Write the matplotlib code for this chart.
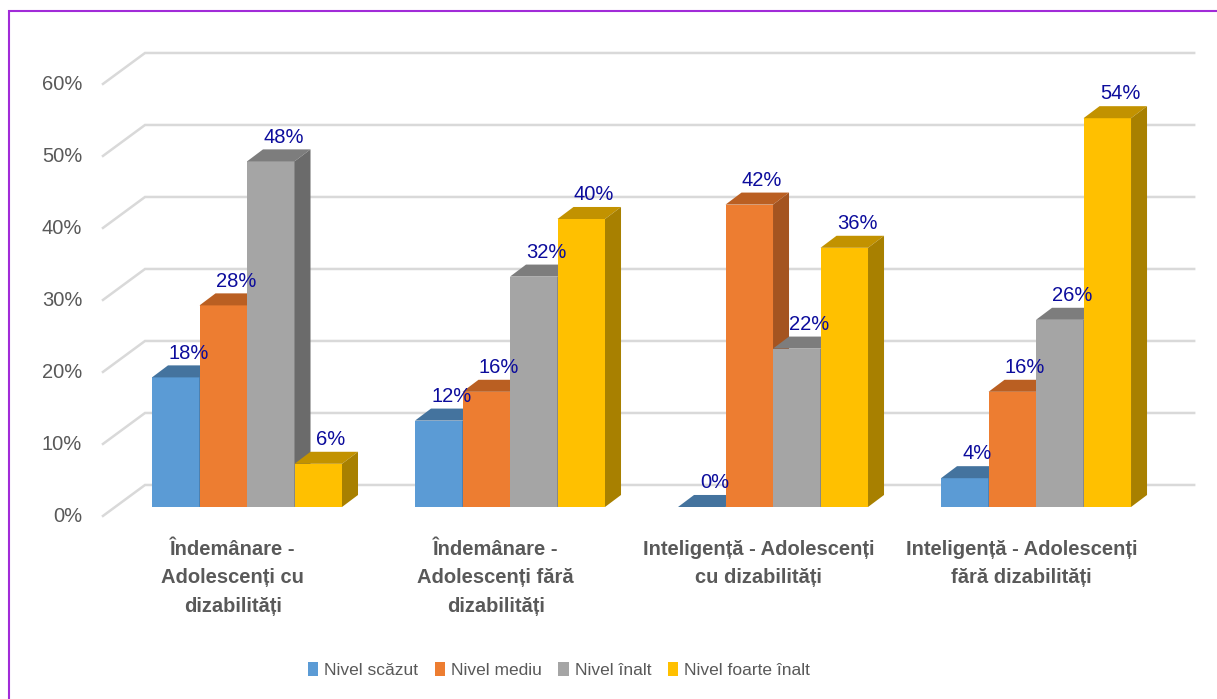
import numpy as np
import matplotlib
matplotlib.use('Agg')
import matplotlib.pyplot as plt
from matplotlib.patches import Polygon, Rectangle, Patch

plt.rcParams['font.family'] = ['Liberation Sans', 'DejaVu Sans']

# data
categories = ['Îndemânare -\nAdolescenți cu\ndizabilități',
              'Îndemânare -\nAdolescenți fără\ndizabilități',
              'Inteligență - Adolescenți\ncu dizabilități',
              'Inteligență - Adolescenți\nfără dizabilități']
series = ['Nivel scăzut', 'Nivel mediu', 'Nivel înalt', 'Nivel foarte înalt']
nivel_scazut = [18, 12, 0, 4]
nivel_mediu = [28, 16, 42, 16]
nivel_inalt = [48, 32, 22, 26]
nivel_foarte_inalt = [6, 40, 36, 54]
yticks = [0, 10, 20, 30, 40, 50, 60]

values = [nivel_scazut, nivel_mediu, nivel_inalt, nivel_foarte_inalt]

# colours: front, top, side
front = ['#5B9BD5', '#ED7D31', '#A5A5A5', '#FFC000']
top = ['#44739E', '#BA5F22', '#7D7D7D', '#C29200']
side = ['#3D6890', '#A45420', '#6B6B6B', '#A88000']

# geometry (data units: 1 = bar width, y in %)
gstep = 5.537
dx, dy = 0.337, 1.67          # bar depth
wall_dy = 3.06                # back wall above bar front
floor_dx, floor_dy = 0.885, 4.3

fig = plt.figure(figsize=(12.17, 6.99), dpi=100)
ax = fig.add_axes([0, 0, 1, 1])
ax.set_xlim(-152 / 47.5, (1217 - 152) / 47.5)
ax.set_ylim(-192 / 7.2, 507 / 7.2)
ax.axis('off')

# gridlines (back wall + floor diagonal)
wall_x0, wall_x1 = -0.147, 21.94
for t in yticks:
    yb = t + wall_dy
    ax.plot([wall_x0 - floor_dx, wall_x0, wall_x1],
            [yb - floor_dy, yb, yb], color='#D9D9D9', lw=1.8,
            solid_joinstyle='miter', zorder=1)
    ax.text(-1.47, t - 1.25, f'{t}%', ha='right', va='center',
            fontsize=14.5, color='#595959')

# bars
z = 2
for g in range(len(categories)):
    for s in range(len(series)):
        v = values[s][g]
        x0 = g * gstep + s
        x1 = x0 + 1
        ax.add_patch(Polygon([(x0, 0), (x1, 0), (x1, v), (x0, v)],
                             closed=True, fc=front[s], ec='none', zorder=z))
        ax.add_patch(Polygon([(x0, v), (x1, v), (x1 + dx, v + dy), (x0 + dx, v + dy)],
                             closed=True, fc=top[s], ec='none', zorder=z))
        ax.add_patch(Polygon([(x1, 0), (x1 + dx, dy), (x1 + dx, v + dy), (x1, v)],
                             closed=True, fc=side[s], ec='none', zorder=z))
        z += 1
        ax.text(x0 + 0.5 + dx / 2 + 0.1, v + dy + 1.7, f'{v}%', ha='center',
                va='center', fontsize=14.5, color='#0C0C9C', zorder=50)
    ax.text(g * gstep + 2 - 0.3, -4.6, categories[g], ha='center', va='top',
            fontsize=14.5, fontweight='bold', color='#595959', linespacing=1.62)

# legend
handles = [Patch(fc=c, ec='none') for c in front]
fig.legend(handles, series, loc='center', bbox_to_anchor=(559 / 1217, 1 - 670 / 699),
           ncol=4, frameon=False, fontsize=12.5,
           handlelength=0.6, handleheight=0.85, handletextpad=0.35,
           columnspacing=0.95, labelcolor='#595959')

# purple frame
fig.patches.append(Rectangle((9 / 1217, -0.1), 1.2, (699 - 11) / 699 + 0.1,
                             transform=fig.transFigure, fill=False,
                             ec='#A12BD8', lw=1.5))

fig.savefig('out.png', dpi=100)
